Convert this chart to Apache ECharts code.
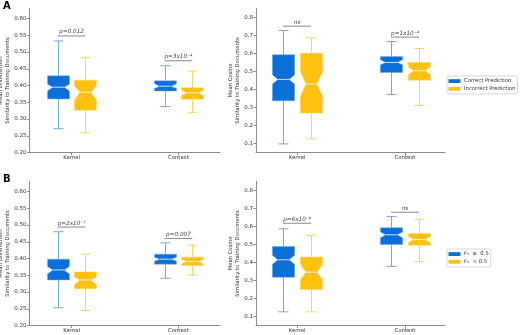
<!DOCTYPE html>
<html>
<head>
<meta charset="utf-8">
<script src="https://cdn.jsdelivr.net/npm/echarts@6/dist/echarts.min.js"></script>
<style>
html,body{margin:0;padding:0;background:#fff;}
#main{width:520px;height:335px;}
</style>
</head>
<body>
<div id="main"></div>
<script>
var categories = ['Kernel', 'Context'];
var levTicks = [0.20, 0.25, 0.30, 0.35, 0.40, 0.45, 0.50, 0.55, 0.60];
var cosTicks = [0.1, 0.2, 0.3, 0.4, 0.5, 0.6, 0.7, 0.8];

// one row per category: [low whisker, q1, notch low, median, notch high, q3, high whisker]
var levA_correct   = [[0.271, 0.360, 0.384, 0.395, 0.404, 0.429, 0.533], [0.337, 0.384, 0.391, 0.398, 0.405, 0.414, 0.459]];
var levA_incorrect = [[0.259, 0.326, 0.357, 0.380, 0.399, 0.416, 0.483], [0.320, 0.359, 0.370, 0.378, 0.386, 0.393, 0.443]];
var cosA_correct   = [[0.098, 0.337, 0.430, 0.456, 0.482, 0.593, 0.728], [0.372, 0.494, 0.537, 0.550, 0.565, 0.583, 0.667]];
var cosA_incorrect = [[0.126, 0.269, 0.361, 0.430, 0.500, 0.602, 0.687], [0.311, 0.452, 0.483, 0.504, 0.525, 0.550, 0.628]];
var levB_high = [[0.253, 0.336, 0.354, 0.366, 0.376, 0.398, 0.480], [0.341, 0.383, 0.392, 0.398, 0.404, 0.413, 0.447]];
var levB_low  = [[0.245, 0.310, 0.322, 0.336, 0.345, 0.360, 0.413], [0.351, 0.379, 0.384, 0.391, 0.398, 0.404, 0.440]];
var cosB_high = [[0.126, 0.318, 0.390, 0.415, 0.440, 0.489, 0.587], [0.378, 0.500, 0.537, 0.554, 0.570, 0.593, 0.656]];
var cosB_low  = [[0.126, 0.250, 0.306, 0.346, 0.390, 0.430, 0.550], [0.404, 0.496, 0.510, 0.528, 0.545, 0.561, 0.640]];

// significance brackets
var pLevA = ['p=0.012', 'p=3x10⁻⁴'];   var pLevA_y = [0.548, 0.474];
var pCosA = ['ns', 'p=1x10⁻⁴'];        var pCosA_y = [0.752, 0.691];
var pLevB = ['p=2x10⁻⁷', 'p=0.007'];   var pLevB_y = [0.494, 0.460];
var pCosB = ['p=6x10⁻⁸', 'ns'];        var pCosB_y = [0.618, 0.679];

var namesA = ['Correct Prediction', 'Incorrect Prediction'];
var namesB = ['F\u2081  \u2265  0.5', 'F\u2081  < 0.5'];

var BLUE = '#0a6fd8', YEL = '#fec10f';
var BLUE_W = '#70aae8', YEL_W = '#fdd35e';
var FONT = 'DejaVu Sans';
var OFF = 0.13, HALF = 0.103, CAP = 0.047;

var chart = echarts.init(document.getElementById('main'));

function boxItem(off, fill, wcol){
	return function(params, api){
		var x = api.value(0) + off;
		var y = [];
		for (var k = 1; k <= 7; k++) y.push(api.coord([x, api.value(k)])[1]);
		var cx = Math.round(api.coord([x, 0])[0]) + 0.5;
		var hw = api.size([HALF, 0])[0];
		var cw = api.size([CAP, 0])[0];
		var ind = hw / 2;
		var L = cx - hw, R = cx + hw;
		var ws = {stroke: wcol, lineWidth: 1};
		return {type: 'group', children: [
			{type: 'line', shape: {x1: cx, y1: y[5], x2: cx, y2: y[6]}, style: ws},
			{type: 'line', shape: {x1: cx, y1: y[1], x2: cx, y2: y[0]}, style: ws},
			{type: 'line', shape: {x1: cx - cw, y1: y[6], x2: cx + cw, y2: y[6]}, style: ws},
			{type: 'line', shape: {x1: cx - cw, y1: y[0], x2: cx + cw, y2: y[0]}, style: ws},
			{type: 'polygon', shape: {points: [
				[L, y[1]], [L, y[2]], [L + ind, y[3]], [L, y[4]], [L, y[5]],
				[R, y[5]], [R, y[4]], [R - ind, y[3]], [R, y[2]], [R, y[1]]
			]}, style: {fill: fill, stroke: wcol, lineWidth: 0.5}},
			{type: 'line', shape: {x1: L + ind, y1: y[3], x2: R - ind, y2: y[3]}, style: {stroke: '#fff', lineWidth: 0.8}}
		]};
	};
}

function pItem(labels){
	return function(params, api){
		var a = api.coord([api.value(0) - OFF, api.value(1)]);
		var b = api.coord([api.value(0) + OFF, api.value(1)]);
		return {type: 'group', children: [
			{type: 'line', shape: {x1: a[0], y1: a[1], x2: b[0], y2: b[1]}, style: {stroke: '#8a8a8a', lineWidth: 1}},
			{type: 'text', x: (a[0] + b[0]) / 2, y: a[1] - 1, style: {
				text: labels[params.dataIndex], fontFamily: FONT, fontStyle: 'italic', fontSize: 5.7,
				fill: '#444', align: 'center', verticalAlign: 'bottom'}}
		]};
	};
}

function rows(arr){ return arr.map(function(r, i){ return [i].concat(r); }); }

function boxSeries(name, idx, arr, off, fill, wcol){
	return {type: 'custom', name: name, xAxisIndex: idx, yAxisIndex: idx,
		itemStyle: {color: fill}, renderItem: boxItem(off, fill, wcol), data: rows(arr),
		encode: {x: 0, y: [1, 2, 3, 4, 5, 6, 7]}, silent: true};
}
function pSeries(idx, labels, ys){
	return {type: 'custom', xAxisIndex: idx, yAxisIndex: idx, renderItem: pItem(labels),
		data: ys.map(function(v, i){ return [i, v]; }), encode: {x: 0, y: 1}, silent: true};
}

var grids = [
	{left: 29.5, top: 8.5, width: 190.5, height: 144, outerBoundsMode: 'none'},
	{left: 256, top: 8.5, width: 189, height: 144, outerBoundsMode: 'none'},
	{left: 29.5, top: 181.5, width: 190.5, height: 144, outerBoundsMode: 'none'},
	{left: 256, top: 181.5, width: 189, height: 144, outerBoundsMode: 'none'}
];
var axisCol = '#8c8c8c';

function xAx(i, min, max){
	return {type: 'value', gridIndex: i, min: min, max: max,
		axisLine: {show: true, onZero: false, lineStyle: {color: axisCol, width: 1}},
		axisTick: {show: true, customValues: [0, 1], length: 2.5, lineStyle: {color: axisCol}},
		axisLabel: {customValues: [0, 1], formatter: function(v){ return categories[Math.round(v)]; },
			fontFamily: FONT, fontSize: 5.3, color: '#333', margin: 3},
		splitLine: {show: false}};
}
function yAx(i, min, max, ticks, dec, name, gap){
	return {type: 'value', gridIndex: i, min: min, max: max,
		axisLine: {show: true, onZero: false, lineStyle: {color: axisCol, width: 1}},
		axisTick: {show: true, customValues: ticks, length: 2.5, lineStyle: {color: axisCol}},
		axisLabel: {customValues: ticks, formatter: function(v){ return v.toFixed(dec); },
			fontFamily: FONT, fontSize: 5.5, color: '#333', margin: 3},
		splitLine: {show: false},
		name: name, nameLocation: 'middle', nameGap: gap, nameRotate: 90,
		nameTextStyle: {fontFamily: FONT, fontSize: 5.3, color: '#333', lineHeight: 6.2, align: 'center'}};
}

var levName = 'Mean Levenshtein\nSimilarity to Training Documents';
var cosName = 'Mean Cosine\nSimilarity to Training Documents';

function legendOf(names, top){
	return {data: names, orient: 'vertical', left: 447, top: top, icon: 'rect',
		itemWidth: 12, itemHeight: 3.8, itemGap: 1.5, padding: [2, 2, 2, 1.5],
		borderColor: '#cfcfcf', borderWidth: 0.8, borderRadius: 1.5, selectedMode: false,
		textStyle: {fontFamily: FONT, fontSize: 5.3, color: '#333', lineHeight: 6.2, padding: [0, 0, 0, -1.5]}};
}

var option = {
	animation: false,
	grid: grids,
	xAxis: [xAx(0, -0.394, 1.389), xAx(1, -0.381, 1.371), xAx(2, -0.394, 1.389), xAx(3, -0.381, 1.371)],
	yAxis: [
		yAx(0, 0.2, 0.63, levTicks, 2, levName, 17),
		yAx(1, 0.05, 0.85, cosTicks, 1, cosName, 15.5),
		yAx(2, 0.2, 0.63, levTicks, 2, levName, 17),
		yAx(3, 0.05, 0.85, cosTicks, 1, cosName, 15.5)
	],
	legend: [legendOf(namesA, 76), legendOf(namesB, 249)],
	graphic: [
		{type: 'text', left: 3, top: 1, style: {text: 'A', fontFamily: FONT, fontWeight: 'bold', fontSize: 10, fill: '#000'}},
		{type: 'text', left: 3, top: 174, style: {text: 'B', fontFamily: FONT, fontWeight: 'bold', fontSize: 10, fill: '#000'}}
	],
	series: [
		boxSeries(namesA[0], 0, levA_correct, -OFF, BLUE, BLUE_W),
		boxSeries(namesA[1], 0, levA_incorrect, OFF, YEL, YEL_W),
		boxSeries(namesA[0], 1, cosA_correct, -OFF, BLUE, BLUE_W),
		boxSeries(namesA[1], 1, cosA_incorrect, OFF, YEL, YEL_W),
		boxSeries(namesB[0], 2, levB_high, -OFF, BLUE, BLUE_W),
		boxSeries(namesB[1], 2, levB_low, OFF, YEL, YEL_W),
		boxSeries(namesB[0], 3, cosB_high, -OFF, BLUE, BLUE_W),
		boxSeries(namesB[1], 3, cosB_low, OFF, YEL, YEL_W),
		pSeries(0, pLevA, pLevA_y),
		pSeries(1, pCosA, pCosA_y),
		pSeries(2, pLevB, pLevB_y),
		pSeries(3, pCosB, pCosB_y)
	]
};
chart.setOption(option);
</script>
</body>
</html>
